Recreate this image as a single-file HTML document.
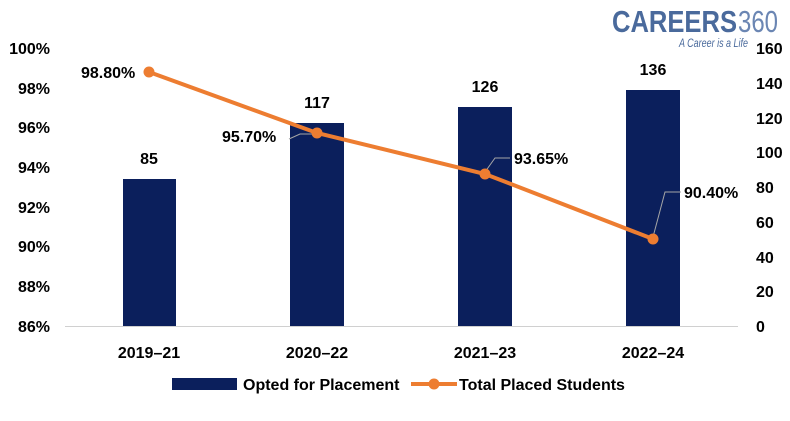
<!DOCTYPE html>
<html><head><style>
body{margin:0;background:#fff;}
svg text{font-family:"Liberation Sans",Arial,sans-serif;font-weight:bold;fill:#000;}
</style></head><body>
<svg width="790" height="416" viewBox="0 0 790 416" xmlns="http://www.w3.org/2000/svg">
<rect width="790" height="416" fill="#fff"/>
<text x="612" y="32" textLength="125" lengthAdjust="spacingAndGlyphs" style="font-size:31px;fill:#4a6a9c;font-weight:bold">CAREERS</text>
<text x="738" y="32" textLength="40" lengthAdjust="spacingAndGlyphs" style="font-size:31px;fill:#6b86b3;font-weight:normal">360</text>
<text x="679" y="47" textLength="69" lengthAdjust="spacingAndGlyphs" style="font-size:12px;fill:#4a6a9c;font-weight:normal;font-style:italic">A Career is a Life</text>
<g font-size="16" text-anchor="end">
<text x="50" y="54">100%</text>
<text x="50" y="94">98%</text>
<text x="50" y="133">96%</text>
<text x="50" y="173">94%</text>
<text x="50" y="213">92%</text>
<text x="50" y="252">90%</text>
<text x="50" y="292">88%</text>
<text x="50" y="332">86%</text>
</g>
<g font-size="16" text-anchor="start">
<text x="756" y="54">160</text>
<text x="756" y="89">140</text>
<text x="756" y="124">120</text>
<text x="756" y="158">100</text>
<text x="756" y="193">80</text>
<text x="756" y="228">60</text>
<text x="756" y="263">40</text>
<text x="756" y="297">20</text>
<text x="756" y="332">0</text>
</g>
<line x1="65" y1="326.5" x2="738" y2="326.5" stroke="#d0d0d0" stroke-width="1"/>
<g fill="#0b1f5c">
<rect x="123" y="179" width="53" height="147"/>
<rect x="290" y="123" width="54" height="203"/>
<rect x="458" y="107" width="54" height="219"/>
<rect x="626" y="90" width="54" height="236"/>
</g>
<g font-size="16" text-anchor="middle">
<text x="149" y="164">85</text>
<text x="317" y="108">117</text>
<text x="485" y="92">126</text>
<text x="653" y="75">136</text>
</g>
<g stroke="#a6a6a6" stroke-width="1" fill="none">
<polyline points="289,139 300,134 315,134"/>
<polyline points="485,172 495,158 510,158"/>
<polyline points="653,237 665,192 681,192"/>
</g>
<polyline points="149,72 317,133 485,174 653,239" fill="none" stroke="#ed7d31" stroke-width="4"/>
<g fill="#ed7d31">
<circle cx="149" cy="72" r="5.5"/><circle cx="317" cy="133" r="5.5"/><circle cx="485" cy="174" r="5.5"/><circle cx="653" cy="239" r="5.5"/>
</g>
<g font-size="16">
<text x="81" y="78">98.80%</text>
<text x="222" y="142">95.70%</text>
<text x="514" y="164">93.65%</text>
<text x="684" y="198">90.40%</text>
</g>
<g font-size="16" text-anchor="middle">
<text x="149" y="358">2019–21</text>
<text x="317" y="358">2020–22</text>
<text x="485" y="358">2021–23</text>
<text x="653" y="358">2022–24</text>
</g>
<rect x="172" y="378" width="65" height="12" fill="#0b1f5c"/>
<text x="243" y="390" font-size="16">Opted for Placement</text>
<line x1="411" y1="384" x2="457" y2="384" stroke="#ed7d31" stroke-width="4"/>
<circle cx="434" cy="384" r="5.5" fill="#ed7d31"/>
<text x="459" y="390" font-size="16">Total Placed Students</text>
</svg>
</body></html>
